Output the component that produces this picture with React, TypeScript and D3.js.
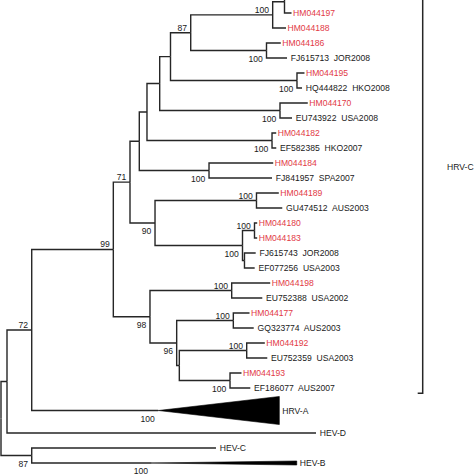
import React from "react";
import * as d3 from "d3";

// [node id / taxon, parent id, branch length]
type Edge = [string, string, number];

const edges: Edge[] = [
  ["root", "", 0],
  ["n7", "root", 0.01],
  ["n72", "n7", 0.0412],
  ["n99", "n72", 0.136],
  ["n71", "n99", 0.0278],
  ["n139", "n71", 0.0155],
  ["n147", "n139", 0.0128],
  ["n160", "n147", 0.0212],
  ["n170", "n160", 0.018],
  ["n87a", "n170", 0.0337],
  ["n273", "n87a", 0.1366],
  ["n286", "n273", 0.0197],
  ["ntop", "n286", 0.0125],
  ["cropped-1", "ntop", 0.0217],
  ["cropped-2", "ntop", 0.0133],
  ["HM044197", "n286", 0.0117],
  ["HM044188", "n273", 0.0222],
  ["n267", "n87a", 0.1263],
  ["HM044186", "n267", 0.0238],
  ["FJ615713  JOR2008", "n267", 0.0342],
  ["n297", "n170", 0.2108],
  ["HM044195", "n297", 0.0125],
  ["HQ444822  HKO2008", "n297", 0.0084],
  ["n280", "n160", 0.2005],
  ["HM044170", "n280", 0.0463],
  ["EU743922  USA2008", "n280", 0.02],
  ["n272", "n147", 0.2084],
  ["HM044182", "n272", 0.007],
  ["EF582385  HKO2007", "n272", 0.0071],
  ["n209", "n139", 0.1162],
  ["HM044184", "n209", 0.107],
  ["FJ841957  SPA2007", "n209", 0.105],
  ["n90", "n71", 0.0417],
  ["n256", "n90", 0.1691],
  ["HM044189", "n256", 0.0372],
  ["GU474512  AUS2003", "n256", 0.043],
  ["n242", "n90", 0.1458],
  ["n254", "n242", 0.02],
  ["HM044180", "n254", 0.0045],
  ["HM044183", "n254", 0.0045],
  ["n244", "n242", 0.0033],
  ["FJ615743  JOR2008", "n244", 0.0187],
  ["EF077256  USA2003", "n244", 0.017],
  ["n98", "n99", 0.0611],
  ["n231", "n98", 0.1362],
  ["HM044198", "n231", 0.0642],
  ["EU752388  USA2002", "n231", 0.051],
  ["n96", "n98", 0.0445],
  ["n233", "n96", 0.0944],
  ["HM044177", "n233", 0.027],
  ["GQ323774  AUS2003", "n233", 0.034],
  ["n179", "n96", 0.0044],
  ["n246", "n179", 0.1123],
  ["HM044192", "n246", 0.0302],
  ["EU752359  USA2003", "n246", 0.0343],
  ["n230", "n179", 0.0845],
  ["HM044193", "n230", 0.0191],
  ["EF186077  AUS2007", "n230", 0.0338],
  ["HRV-A", "n72", 0.211],
  ["HEV-D", "n7", 0.515],
  ["n87b", "root", 0.0512],
  ["HEV-C", "n87b", 0.3071],
  ["HEV-B", "n87b", 0.2],
];

const bootstrap: Record<string, number> = {
  n72: 72, n99: 99, n71: 71, n87a: 87, n273: 100, n267: 100, n297: 100,
  n280: 100, n272: 100, n209: 100, n90: 90, n256: 100, n242: 100, n254: 100,
  n98: 98, n231: 100, n96: 96, n233: 100, n246: 100, n230: 100,
  "HRV-A": 100, "HEV-B": 100, n87b: 87,
};

const bootstrapBelow = [
  "n267", "n297", "n280", "n272", "n209", "n90", "n242", "n98", "n96",
  "n230", "HRV-A", "n87b", "HEV-B",
];

// collapsed clades: depth extent, rows occupied, triangle height in rows
const collapsedIds = ["HRV-A", "HEV-B"];
const collapsedExtent = [0.2017, 0.2417];
const collapsedRows = [2, 1];
const collapsedHeight = [1.87, 0.27];

const hiddenLeaves = ["cropped-1", "cropped-2"]; // above the crop of the figure
const cladeLabel = "HRV-C";
const cladeLastLeaf = "EF186077  AUS2007";

export default function App() {
  const W = 474;
  const H = 474;
  const font = "'Liberation Sans', Arial, sans-serif";
  const lineColor = "#262626";
  const red = "#e23a46";
  const ink = "#1a1a1a";

  const root = d3.stratify<Edge>().id((d) => d[0]).parentId((d) => d[1])(edges);

  const dist = new Map<string, number>();
  root.eachBefore((n) => {
    dist.set(n.id!, n.parent ? dist.get(n.parent.id!)! + n.data[2] : 0);
  });

  const row = new Map<string, number>();
  let r = 0;
  for (const leaf of root.leaves()) {
    const ci = collapsedIds.indexOf(leaf.id!);
    const span = ci >= 0 ? collapsedRows[ci] : 1;
    row.set(leaf.id!, r + (span - 1) / 2);
    r += span;
  }

  const x = d3.scaleLinear().domain([0, 1]).range([1, 601]);
  const y = d3.scaleLinear().domain([0, 1]).range([-17, -2]);

  const ypos = new Map<string, number>();
  root.eachAfter((n) => {
    if (n.children) {
      const a = ypos.get(n.children[0].id!)!;
      const b = ypos.get(n.children[n.children.length - 1].id!)!;
      ypos.set(n.id!, (a + b) / 2);
    } else {
      ypos.set(n.id!, y(row.get(n.id!)!));
    }
  });

  const X = (n: d3.HierarchyNode<Edge>) => x(dist.get(n.id!)!);
  const Y = (n: d3.HierarchyNode<Edge>) => ypos.get(n.id!)!;

  const nodes = root.descendants();
  const rowH = y(1) - y(0);

  const bracketX = 422.7;
  const bracketBottom = ypos.get(cladeLastLeaf)! + 5.3;
  const bracketTop = y(-2.8);

  return (
    <svg
      width={W}
      height={H}
      style={{ position: "absolute", left: 0, top: 0, background: "#fff" }}
      fontFamily={font}
    >
      <g fill="none" stroke={lineColor} strokeWidth={1.4}>
        {nodes
          .filter((n) => n.parent)
          .map((n) => (
            <path
              key={"l" + n.id}
              d={`M${X(n.parent!)},${Y(n.parent!)}V${Y(n)}H${X(n)}`}
            />
          ))}
      </g>
      {collapsedIds.map((id, i) => {
        const n = nodes.find((d) => d.id === id)!;
        const x0 = X(n);
        const x1 = x(dist.get(id)! + collapsedExtent[i]);
        const yc = Y(n);
        const h = (collapsedHeight[i] * rowH) / 2;
        return (
          <polygon
            key={"c" + id}
            points={`${x0},${yc} ${x1},${yc - h} ${x1},${yc + h}`}
            fill="#000"
            stroke="#000"
            strokeWidth={0.6}
          />
        );
      })}
      <g fontSize={8.6}>
        {root
          .leaves()
          .filter((n) => !hiddenLeaves.includes(n.id!))
          .map((n) => {
            const ci = collapsedIds.indexOf(n.id!);
            const end = ci >= 0 ? x(dist.get(n.id!)! + collapsedExtent[ci]) : X(n);
            const isHM = n.id!.startsWith("HM");
            const gap = isHM ? 1.5 : ci >= 0 ? 3 : 3.8;
            return (
              <text
                key={"t" + n.id}
                x={end + gap}
                y={Y(n)}
                dy="0.35em"
                xmlSpace="preserve"
                style={{ whiteSpace: "pre" }}
                fill={isHM ? red : ink}
              >
                {n.id}
              </text>
            );
          })}
      </g>
      <g fontSize={8.6} fill={ink} textAnchor="end">
        {nodes
          .filter((n) => bootstrap[n.id!] !== undefined)
          .map((n) => (
            <text
              key={"b" + n.id}
              x={X(n) - 3.6}
              y={Y(n) + (bootstrapBelow.includes(n.id!) ? 11 : -2)}
            >
              {bootstrap[n.id!]}
            </text>
          ))}
      </g>
      <path
        d={`M${bracketX},${bracketTop}V${bracketBottom}H${bracketX - 5}`}
        fill="none"
        stroke={lineColor}
        strokeWidth={1.5}
      />
      <text
        x={447}
        y={(bracketTop + bracketBottom) / 2}
        dy="0.35em"
        fontSize={8.6}
        fill={ink}
      >
        {cladeLabel}
      </text>
    </svg>
  );
}
